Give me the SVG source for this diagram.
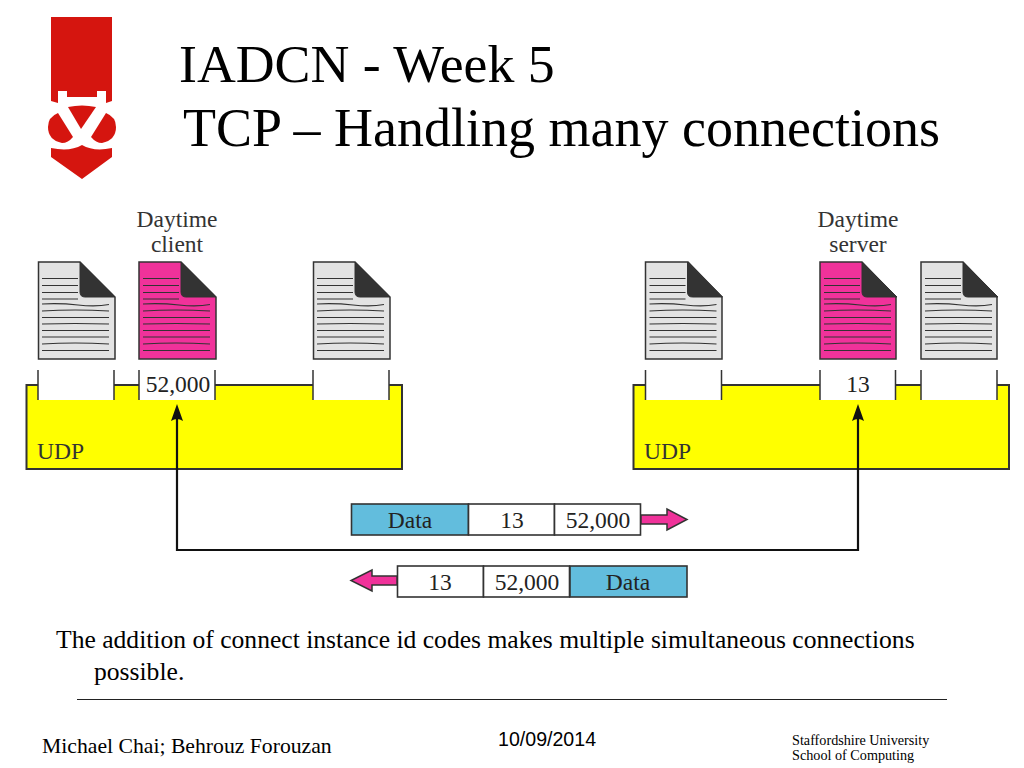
<svg xmlns="http://www.w3.org/2000/svg" width="1024" height="768" viewBox="0 0 1024 768">
<style>
text{font-family:"Liberation Serif","Times New Roman",serif;fill:#000}
.title{font-size:53.800px}
.body{font-size:25.600px}
.lab{font-size:23.500px;fill:#333;text-anchor:middle}
.cell{font-size:23.500px;fill:#222;text-anchor:middle}
.tag{font-size:23.500px;fill:#333}
.udp{fill:#ff0;stroke:#333;stroke-width:2}
.slot{fill:#fff;stroke:none}
.tick{stroke:#333;stroke-width:1.5;fill:none}
.sheet{stroke:#333;stroke-width:1.5}
.gray{fill:#e3e3e3}
.pink{fill:#f0329a}
.fold{fill:#333;stroke:#333;stroke-width:1}
.ln{fill:none;stroke:#333;stroke-width:1.200}
.box{stroke:#333;stroke-width:1.600;fill:#fff}
.blue{stroke:#333;stroke-width:1.600;fill:#62bddd}
.arr{fill:#f0329a;stroke:#333;stroke-width:1.500}
.wire{fill:none;stroke:#111;stroke-width:2.200}
.tip{fill:#111}
.red{fill:#d5150f}
</style>
<defs>
<g id="marks">
<path class="fold" d="M80 262L115 297H85Q80 297 80 292Z"/>
<path class="ln" d="M42 278.500H78M42 285.500H78M42 292.500H78M42 299H78M42 304Q60 303 78 305T109 304.500M42 311Q75 309 109 311M42 317.500H109M42 324Q75 323 109 324M42 330.500H109M42 337H109M42 344Q75 342 109 344M42 350.500H109"/>
</g>
</defs>

<g id="logo">
<path class="red" d="M51 17H112V101L106 103V91H97V97H67V91H58V103L51 101Z"/>
<path class="red" d="M68 107Q82 104 96 107L81 129Z"/>
<path class="red" d="M58 113L73 137Q68 143 62 143Q48 140 48 127Q48 117 58 113Z"/>
<path class="red" d="M106 113L91 137Q96 143 102 143Q116 140 116 127Q116 117 106 113Z"/>
<path class="red" d="M51 148Q70 152 82 145Q94 152 112 148V157L82 179L51 157Z"/>
</g>

<g id="title">
<text class="title" x="179" y="82">IADCN - Week 5</text>
<text x="183" y="146" style="font-size:54px">TCP – Handling many connections</text>
</g>

<g id="udp-client">
<path class="udp" d="M26.500 385H402V469H26.500Z"/>
<rect class="slot" x="38" y="370" width="76" height="30"/>
<rect class="slot" x="139" y="370" width="76" height="30"/>
<rect class="slot" x="313" y="370" width="76" height="30"/>
<path class="tick" d="M38 370V400M114 370V400M139 370V400M215 370V400M313 370V400M389 370V400"/>
<text class="tag" x="37" y="459">UDP</text>
<text class="cell" x="178" y="392">52,000</text>
</g>
<g id="udp-server">
<path class="udp" d="M633.500 385H1009V469H633.500Z"/>
<rect class="slot" x="645.500" y="370" width="76" height="30"/>
<rect class="slot" x="820" y="370" width="76" height="30"/>
<rect class="slot" x="921" y="370" width="76" height="30"/>
<path class="tick" d="M645.500 370V400M721.500 370V400M820 370V400M895.500 370V400M921 370V400M997 370V400"/>
<text class="tag" x="644" y="459">UDP</text>
<text class="cell" x="858" y="392">13</text>
</g>

<g id="doc-c1"><path class="sheet gray" d="M38.500 262H80L115 297V359H38.500Z"/><use href="#marks"/></g>
<g id="doc-client"><path class="sheet pink" d="M139 262H181L216 297V359H139Z"/><use href="#marks" x="101"/></g>
<g id="doc-c3"><path class="sheet gray" d="M313.500 262H355L390 297V359H313.500Z"/><use href="#marks" x="275"/></g>
<g id="doc-s1"><path class="sheet gray" d="M645.500 262H688L722 297V359H645.500Z"/><use href="#marks" x="607.500"/></g>
<g id="doc-server"><path class="sheet pink" d="M820 262H862L896 297V359H820Z"/><use href="#marks" x="782"/></g>
<g id="doc-s3"><path class="sheet gray" d="M921 262H963L997 297V359H921Z"/><use href="#marks" x="883"/></g>

<g id="label-client"><text class="lab" x="177" y="226.500">Daytime</text><text class="lab" x="177" y="252">client</text></g>
<g id="label-server"><text class="lab" x="858" y="226.500">Daytime</text><text class="lab" x="858" y="252">server</text></g>

<g id="connectors">
<path class="wire" d="M177 416V550H858V416"/>
<path class="tip" d="M177 404L183 421Q177 417 171 421Z"/>
<path class="tip" d="M858 404L864 421Q858 417 852 421Z"/>
</g>

<g id="packet-out">
<rect class="blue" x="351.500" y="504" width="117" height="31"/>
<rect class="box" x="468.500" y="504" width="86" height="31"/>
<rect class="box" x="554.500" y="504" width="86" height="31"/>
<text class="cell" x="410" y="527.500">Data</text><text class="cell" x="512" y="527.500">13</text><text class="cell" x="598" y="527.500">52,000</text>
<path class="arr" d="M641 515H667V509L687 519.500L667 530V524H641Z"/>
</g>
<g id="packet-back">
<rect class="box" x="397.500" y="566" width="86" height="31"/>
<rect class="box" x="483.500" y="566" width="86" height="31"/>
<rect class="blue" x="570" y="566" width="117" height="31"/>
<text class="cell" x="440" y="589.500">13</text><text class="cell" x="527" y="589.500">52,000</text><text class="cell" x="628" y="589.500">Data</text>
<path class="arr" d="M397 576H372V570L351 580.500L372 591V585H397Z"/>
</g>

<g id="caption">
<text class="body" x="56" y="648">The addition of connect instance id codes makes multiple simultaneous connections</text>
<text class="body" x="94" y="680">possible.</text>
</g>
<path d="M77 699.500H947" stroke="#222" stroke-width="1" fill="none"/>
<g id="footer">
<text x="42" y="753" style="font-size:21.700px">Michael Chai; Behrouz Forouzan</text>
<text x="498" y="745.500" style="font-size:19.600px;font-family:'Liberation Sans',Arial,sans-serif">10/09/2014</text>
<text x="792" y="744.500" style="font-size:14.200px">Staffordshire University</text>
<text x="792" y="760" style="font-size:14.200px">School of Computing</text>
</g>
</svg>
